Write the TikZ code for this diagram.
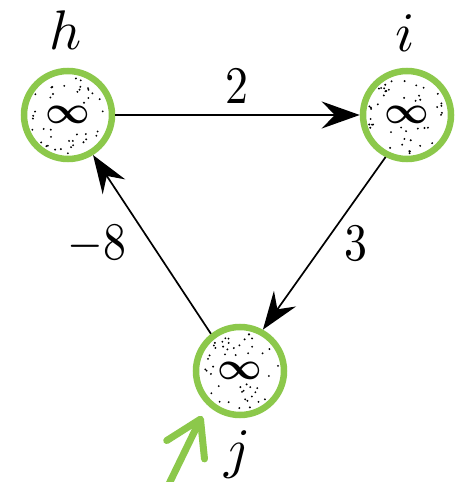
\documentclass[tikz,border=0pt]{standalone}
\usepackage{graphicx}
\usetikzlibrary{arrows.meta,calc}
\definecolor{ringgreen}{RGB}{140,200,75}
\tikzset{
  x=1bp, y=-1bp,
  vertex/.style={circle, draw=ringgreen, line width=6.5bp, minimum size=88bp,
    inner sep=0pt},
  vname/.style={inner sep=0pt},
  weight/.style={inner sep=0pt},
  edge/.style={line width=1.7bp, black,
    -{Stealth[length=38bp, width=27bp, inset=13bp]}},
  pointer/.style={line width=7bp, ringgreen, line cap=round, line join=round,
    -{Straight Barb[length=34bp, width=42bp, round]}}
}
% symbols are set at 10pt and enlarged, so every math font scales
\newcommand{\bigsym}{\scalebox{3.9}{\boldmath$\infty$}}
\newcommand{\bigname}[1]{\scalebox{5.6}{$#1$}}
\newcommand{\bigweight}[1]{\scalebox{4.6}[5.3]{#1}}
\begin{document}
\begin{tikzpicture}
  \useasboundingbox (0,0) rectangle (462,482);

  % vertices
  \node[vertex] (h) at (68,115) {\bigsym};
  \node[vertex] (i) at (407,115) {\bigsym};
  \node[vertex] (j) at (240,371) {\bigsym};

  % stippled shading inside each vertex, leaving the symbol clear
  \pgfmathsetseed{4711}
  \foreach \c in {h,i,j}{
    \foreach \k in {1,...,60}{
      \pgfmathsetmacro\rr{39*sqrt(rnd)}
      \pgfmathsetmacro\aa{360*rnd}
      \pgfmathsetmacro\dx{\rr*cos(\aa)}
      \pgfmathsetmacro\dy{\rr*sin(\aa)}
      \pgfmathtruncatemacro\keep{(abs(\dx)<25 && abs(\dy)<12) ? 0 : 1}
      \ifnum\keep=1 \fill ($(\c)+(\dx,\dy)$) circle[radius=1.05bp]; \fi
    }
  }

  % vertex names
  \node[vname] (hname) at (66,30) {\bigname{h}};
  \node[vname] (iname) at (405,33) {\bigname{i}};
  \node[vname] (jname) at (238,455) {\bigname{j}};

  % weighted edges
  \draw[edge] (h.east) -- (i.west);
  \draw[edge] (i.243) -- (j.61);
  \draw[edge] (j.128) -- (h.-58);

  % edge weights
  \node[weight] (w2) at (237,86) {\bigweight{2}};
  \node[weight] (w3) at (356,243) {\bigweight{3}};
  \node[weight] (w8) at (97,244) {\bigweight{$-$8}};

  % source marker
  \coordinate (ptail) at (167,488);
  \coordinate (ptip) at (202,416);
  \draw[pointer] (ptail) -- (ptip);
\end{tikzpicture}
\end{document}
